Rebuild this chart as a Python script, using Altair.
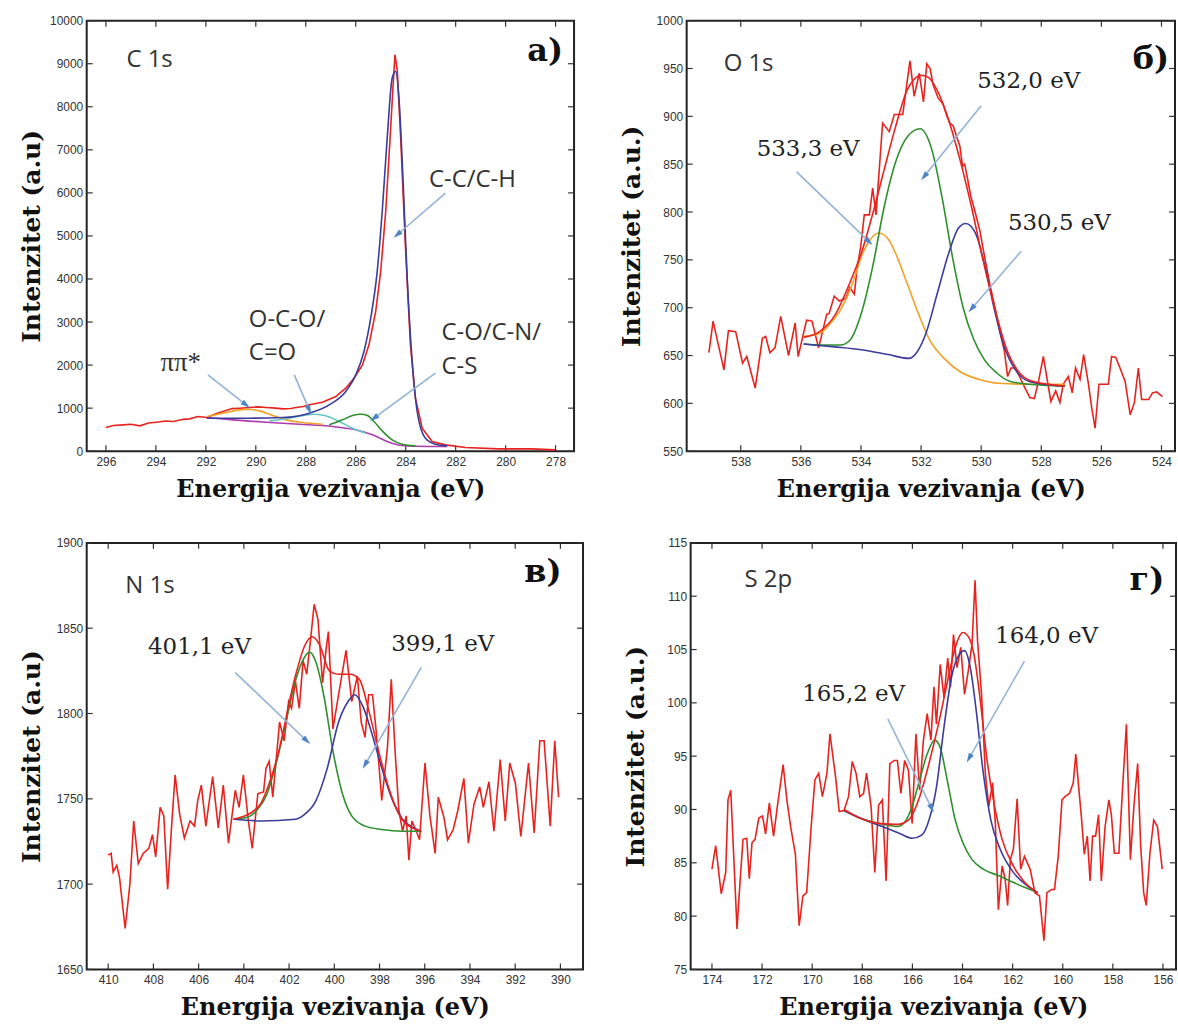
import math
import altair as alt
import pandas as pd

# ---------------- data: C 1s ----------------
C1S_RAW_EV = [296.0, 295.7, 295.31, 295.0, 294.64, 294.3, 293.98, 293.6, 293.31, 292.9, 292.65, 292.32,
              291.96, 291.6, 291.32, 290.95, 290.65, 290.26, 289.9, 289.59, 289.2, 288.93, 288.6, 288.39,
              288.1, 287.86, 287.33, 286.8, 286.4, 286.07, 285.73, 285.47, 285.2, 285.0, 284.8, 284.64,
              284.51, 284.43, 284.34, 284.2, 284.0, 283.81, 283.61, 283.34, 282.94, 282.41, 281.61,
              280.28, 278.95, 278.02]
C1S_RAW_I = [550, 598, 612, 625, 589, 655, 674, 700, 689, 740, 751, 806,
             782, 870, 922, 990, 999, 1015, 1030, 1015, 1000, 984, 990, 1015,
             1040, 1077, 1139, 1270, 1464, 1696, 2006, 2471, 3246, 4175, 5569, 7118,
             8435, 9210, 8861, 7273, 4640, 2471, 1232, 534, 225, 147, 85,
             54, 54, 31]
C1S_BG_EV = [291.96, 290.92, 289.59, 288.26, 286.93, 286.0, 285.34, 284.67, 284.14, 283.61, 282.34]
C1S_BG_I = [782, 728, 674, 627, 573, 496, 380, 209, 132, 116, 108]
C1S_CC_EV = [291.96, 290.26, 288.93, 287.86, 287.06, 286.4, 286.0, 285.67, 285.4, 285.14, 284.94, 284.74,
             284.54, 284.4, 284.27, 284.11, 283.94, 283.74, 283.54, 283.21, 282.81, 282.34]
C1S_CC_I = [767, 767, 782, 883, 1077, 1387, 1774, 2316, 3091, 4175, 5569, 7273,
            8668, 8823, 8203, 6344, 4020, 2084, 922, 302, 163, 124]
C1S_PI_EV = [291.96, 291.32, 290.65, 290.26, 289.86, 289.32, 288.79, 288.13, 287.33]
C1S_PI_I = [806, 883, 960, 976, 937, 829, 728, 666, 627]
C1S_OCO_EV = [289.46, 288.66, 287.99, 287.6, 287.2, 286.66, 286.13, 285.6]
C1S_OCO_I = [705, 767, 844, 860, 821, 689, 534, 418]
C1S_CO_EV = [287.06, 286.53, 286.13, 285.8, 285.53, 285.27, 284.94, 284.54, 284.14, 283.61]
C1S_CO_I = [612, 728, 829, 860, 829, 689, 472, 263, 163, 124]

# ---------------- data: O 1s ----------------
O1S_RAW_EV = [539.06, 538.92, 538.56, 538.41, 538.17, 537.94, 537.80, 537.52, 537.28, 537.17, 537.03, 536.86,
              536.67, 536.41, 536.19, 536.09, 535.81, 535.63, 535.41, 535.14, 535.06, 534.89, 534.72, 534.50,
              534.37, 534.22, 534.14, 534.00, 533.89, 533.72, 533.61, 533.50, 533.28, 533.06, 532.89, 532.61,
              532.37, 532.23, 532.06, 531.92, 531.81, 531.70, 531.60, 531.43, 531.27, 531.16, 531.04, 530.93,
              530.82, 530.71, 530.62, 530.55, 530.46, 530.35, 530.21, 530.04, 529.88, 529.71, 529.54, 529.38,
              529.23, 529.12, 529.01, 528.86, 528.71, 528.54, 528.38, 528.23, 528.08, 527.93, 527.82, 527.68,
              527.52, 527.38, 527.27, 527.10, 526.97, 526.86, 526.71, 526.59, 526.43, 526.32, 526.21, 526.08,
              525.77, 525.66, 525.52, 525.38, 525.21, 525.04, 524.90, 524.77, 524.66, 524.43, 524.30, 524.16,
              523.97]
O1S_RAW_I = [653, 686, 635, 676, 675, 642, 649, 616, 668, 670, 653, 658,
             691, 650, 684, 649, 687, 686, 658, 693, 694, 712, 707, 710,
             721, 714, 738, 766, 797, 797, 825, 797, 893, 884, 902, 902,
             958, 921, 945, 915, 955, 950, 933, 919, 913, 902, 893, 890,
             879, 869, 848, 850, 836, 817, 801, 780, 752, 724, 700, 675,
             655, 628, 637, 637, 627, 616, 606, 605, 625, 649, 628, 602,
             613, 601, 620, 628, 611, 637, 625, 651, 620, 595, 574, 620,
             620, 649, 648, 637, 623, 588, 601, 637, 604, 604, 611, 612,
             607]
O1S_ENV_EV = [535.91, 535.38, 534.87, 534.37, 533.99, 533.61, 533.23, 532.85, 532.47, 532.22, 532.0,
              531.77, 531.46, 531.08, 530.70, 530.32, 529.94, 529.56, 529.18, 528.80, 528.29, 527.22]
O1S_ENV_I = [669, 675, 692, 726, 757, 798, 844, 889, 927, 939, 943,
             941, 927, 896, 854, 805, 750, 701, 659, 635, 623, 618]
O1S_A_EV = [535.91, 535.38, 535.0, 534.62, 534.24, 533.99, 533.67, 533.42, 533.1, 532.85, 532.47,
            532.09, 531.71, 531.2, 530.7, 530.06, 529.43, 528.54, 527.2]
O1S_A_I = [670, 673, 684, 701, 729, 753, 772, 778, 772, 757, 726,
           694, 666, 646, 633, 625, 621, 620, 620]
O1S_B_EV = [535.91, 535.25, 534.68, 534.37, 533.99, 533.61, 533.23, 532.85, 532.45, 532.03, 531.65,
            531.3, 530.95, 530.60, 530.25, 529.9, 529.49, 529.05, 528.42, 527.22]
O1S_B_I = [662, 661, 661, 666, 694, 743, 805, 852, 879, 887, 866,
           815, 752, 700, 667, 646, 632, 623, 620, 618]
O1S_C_EV = [535.91, 534.87, 533.99, 533.1, 532.41, 532.15, 531.84, 531.46, 531.08, 530.76, 530.51,
            530.19, 529.87, 529.56, 529.24, 528.86, 528.42, 527.91, 527.22]
O1S_C_I = [662, 659, 656, 651, 647, 653, 673, 715, 757, 783, 788,
           778, 743, 698, 660, 635, 623, 620, 618]

# ---------------- data: N 1s ----------------
N1S_RAW_EV = [410.0, 409.87, 409.78, 409.62, 409.5, 409.25, 409.04, 408.87, 408.67, 408.45, 408.2, 408.04,
              407.9, 407.7, 407.54, 407.37, 407.2, 407.04, 406.84, 406.63, 406.38, 406.18, 406.04, 405.88,
              405.68, 405.38, 405.13, 404.91, 404.68, 404.38, 404.21, 404.02, 403.8, 403.63, 403.38, 403.13,
              403.02, 402.88, 402.72, 402.42, 402.22, 402.02, 401.89, 401.72, 401.55, 401.38, 401.22, 401.06,
              400.89, 400.72, 400.52, 400.36, 400.26, 400.06, 399.81, 399.48, 399.23, 398.98, 398.81, 398.64,
              398.48, 398.31, 398.15, 397.9, 397.65, 397.48, 397.32, 397.15, 396.98, 396.82, 396.7, 396.57,
              396.4, 396.23, 395.99, 395.77, 395.54, 395.4, 395.15, 394.99, 394.74, 394.54, 394.27, 394.07,
              393.82, 393.57, 393.41, 393.16, 392.94, 392.66, 392.44, 392.24, 391.99, 391.75, 391.41, 391.16,
              390.91, 390.72, 390.45, 390.25, 390.08]
N1S_RAW_I = [1717, 1718, 1707, 1711, 1704, 1674, 1700, 1737, 1712, 1718, 1721, 1729,
             1716, 1745, 1740, 1697, 1733, 1764, 1741, 1727, 1737, 1734, 1749, 1758,
             1734, 1763, 1733, 1758, 1724, 1755, 1745, 1764, 1737, 1721, 1753, 1754,
             1768, 1772, 1751, 1795, 1784, 1807, 1803, 1819, 1803, 1831, 1823, 1842,
             1864, 1855, 1818, 1838, 1848, 1791, 1811, 1837, 1807, 1822, 1795, 1786,
             1811, 1811, 1790, 1749, 1780, 1820, 1780, 1744, 1731, 1740, 1714, 1737,
             1732, 1726, 1771, 1740, 1718, 1751, 1739, 1726, 1732, 1743, 1762, 1724,
             1747, 1757, 1745, 1760, 1731, 1773, 1737, 1771, 1759, 1728, 1771, 1730,
             1784, 1784, 1734, 1784, 1751]
N1S_ENV_EV = [404.46, 403.38, 402.55, 401.72, 401.3, 400.97, 400.64, 400.22, 399.81, 399.31, 398.89,
              398.48, 398.06, 397.56, 397.06, 396.56, 396.15]
N1S_ENV_I = [1738, 1745, 1773, 1822, 1840, 1845, 1840, 1825, 1823, 1823, 1820,
             1802, 1779, 1755, 1739, 1733, 1731]
N1S_A_EV = [404.46, 403.88, 403.38, 402.97, 402.55, 402.14, 401.72, 401.36, 401.09, 400.81, 400.47,
            400.06, 399.64, 399.23, 398.64, 397.9, 396.98, 396.15]
N1S_A_I = [1738, 1739, 1744, 1753, 1772, 1795, 1819, 1832, 1836, 1830, 1811,
           1778, 1753, 1740, 1734, 1732, 1731, 1731]
N1S_B_EV = [404.46, 403.22, 401.72, 401.3, 400.81, 400.31, 399.81, 399.39, 399.09, 398.73, 398.31,
            397.9, 397.48, 396.98, 396.48, 396.15]
N1S_B_I = [1738, 1737, 1738, 1741, 1749, 1768, 1795, 1807, 1811, 1804, 1787,
           1768, 1751, 1738, 1733, 1731]

# ---------------- data: S 2p ----------------
S2P_RAW_EV = [174.0, 173.85, 173.63, 173.45, 173.36, 173.25, 173.0, 172.88, 172.76, 172.61, 172.51, 172.4,
              172.28, 172.13, 171.98, 171.86, 171.71, 171.54, 171.39, 171.16, 171.01, 170.86, 170.67, 170.52,
              170.37, 170.22, 170.04, 169.89, 169.74, 169.59, 169.41, 169.29, 169.07, 168.92, 168.73, 168.55,
              168.4, 168.25, 168.1, 167.95, 167.83, 167.65, 167.5, 167.35, 167.2, 167.05, 166.9, 166.72,
              166.6, 166.46, 166.31, 166.16, 166.01, 165.86, 165.71, 165.56, 165.41, 165.26, 165.14, 165.04,
              164.89, 164.74, 164.59, 164.48, 164.36, 164.22, 164.07, 163.92, 163.77, 163.62, 163.5, 163.4,
              163.24, 163.09, 162.95, 162.8, 162.69, 162.57, 162.42, 162.3, 162.2, 162.09, 161.97, 161.82,
              161.68, 161.53, 161.3, 161.11, 160.93, 160.75, 160.63, 160.45, 160.33, 160.18, 160.03, 159.91,
              159.73, 159.58, 159.48, 159.36, 159.26, 159.14, 159.02, 158.91, 158.81, 158.69, 158.57, 158.46,
              158.31, 158.16, 158.06, 157.94, 157.76, 157.61, 157.46, 157.3, 157.16, 157.01, 156.89, 156.77,
              156.67, 156.52, 156.37, 156.22, 156.03]
S2P_RAW_I = [84.4, 86.6, 82.1, 84.1, 90.9, 91.8, 78.8, 83.2, 87.2, 87.3, 83.5, 86.9,
             87.2, 89.2, 89.4, 87.7, 90.6, 87.5, 90.3, 94.2, 90.9, 88.4, 85.8, 79.1,
             81.9, 82.2, 88.4, 92.8, 93.4, 91.2, 93.4, 97.1, 93.1, 89.8, 89.9, 91.2,
             94.5, 93.4, 91.2, 91.5, 93.4, 90.3, 84.1, 90.4, 90.9, 83.3, 94.3, 94.6,
             94.6, 91.5, 94.6, 93.7, 88.7, 97.1, 91.8, 96.5, 99.0, 96.5, 101.5, 98.0,
             103.6, 100.5, 104.2, 101.5, 106.4, 103.3, 105.2, 100.8, 103.0, 105.5, 111.5, 105.8,
             100.8, 93.4, 90.3, 92.5, 88.7, 80.6, 84.7, 83.5, 81.0, 85.3, 86.3, 91.0,
             84.4, 85.6, 84.4, 82.2, 81.9, 77.7, 82.2, 82.5, 82.5, 85.6, 90.9, 91.2,
             91.5, 92.5, 95.2, 92.0, 89.4, 85.8, 87.5, 83.3, 87.5, 87.5, 89.5, 83.3,
             88.4, 90.9, 89.5, 85.9, 85.9, 92.1, 98.0, 85.3, 90.3, 94.3, 86.6, 82.2,
             81.0, 85.9, 89.0, 88.4, 84.4]
S2P_ENV_EV = [168.73, 168.1, 167.35, 166.6, 166.16, 165.71, 165.34, 164.96, 164.59, 164.29, 163.99,
              163.74, 163.54, 163.32, 163.02, 162.72, 162.42, 161.97, 161.53, 161.0]
S2P_ENV_I = [90.0, 89.2, 88.7, 88.6, 89.0, 91.2, 94.3, 98.0, 102.1, 105.2, 106.6,
             106.1, 104.5, 100.8, 94.6, 90.3, 87.2, 84.7, 83.2, 82.2]
S2P_A_EV = [168.73, 168.1, 167.35, 166.6, 166.31, 166.01, 165.71, 165.41, 165.11, 164.89, 164.59,
            164.29, 163.99, 163.62, 163.17, 162.57, 161.82, 161.0]
S2P_A_I = [89.9, 89.2, 88.7, 88.4, 88.8, 90.3, 92.8, 95.2, 96.5, 95.8, 92.5,
           89.0, 86.9, 85.3, 84.4, 83.8, 83.0, 82.2]
S2P_B_EV = [168.73, 168.1, 167.2, 166.46, 166.01, 165.63, 165.34, 165.04, 164.74, 164.44, 164.14,
            163.92, 163.69, 163.47, 163.17, 162.87, 162.5, 161.97, 161.45, 161.0]
S2P_B_I = [89.9, 89.2, 88.4, 87.7, 87.3, 87.6, 89.0, 92.1, 97.7, 102.4, 104.5,
           104.9, 103.3, 99.6, 93.4, 89.0, 86.3, 84.1, 82.9, 82.2]

# ---------------- axes ticks ----------------
C1S_XT = [296, 294, 292, 290, 288, 286, 284, 282, 280, 278]
C1S_YT = [0, 1000, 2000, 3000, 4000, 5000, 6000, 7000, 8000, 9000, 10000]
O1S_XT = [538, 536, 534, 532, 530, 528, 526, 524]
O1S_YT = [550, 600, 650, 700, 750, 800, 850, 900, 950, 1000]
N1S_XT = [410, 408, 406, 404, 402, 400, 398, 396, 394, 392, 390]
N1S_YT = [1650, 1700, 1750, 1800, 1850, 1900]
S2P_XT = [174, 172, 170, 168, 166, 164, 162, 160, 158, 156]
S2P_YT = [75, 80, 85, 90, 95, 100, 105, 110, 115]

# ---------------- annotations (data coordinates) ----------------
C1S_ARROWS = [(291.92, 1774, 290.39, 1077), (288.46, 1774, 287.86, 960),
              (282.81, 1813, 285.27, 767), (282.41, 5995, 284.34, 5027)]
O1S_ARROWS = [(536.14, 842, 533.73, 769), (530.0, 911, 531.9, 837), (528.67, 759, 530.32, 699)]
N1S_ARROWS = [(404.38, 1824, 401.22, 1784), (396.15, 1827, 398.64, 1770)]
S2P_ARROWS = [(166.98, 98.5, 165.23, 90.1), (161.53, 103.9, 163.74, 94.8)]

RED = "#e8231f"
GREEN = "#2f8f2f"
NAVY = "#3c3c9c"
ORANGE = "#f2a126"
CYAN = "#63c6c0"
MAGENTA = "#ae3cae"
ARROW = "#93b3d8"
HEAD = "#4c84c6"

STYLES = {
    "elem": dict(font="Open Sans", fontSize=24, color="#333", align="left", baseline="middle"),
    "chem": dict(font="Open Sans", fontSize=24, color="#333", align="left", baseline="middle"),
    "ev": dict(font="DejaVu Serif", fontSize=23, color="#222", align="left", baseline="middle"),
    "pi": dict(font="Liberation Serif", fontSize=27, color="#333", align="left", baseline="middle"),
    "letter": dict(font="DejaVu Serif", fontSize=32, fontWeight="bold", color="#111", align="right",
                   baseline="middle"),
}

HEAD_PATH = "M0,-1L-0.6,1L0.6,1Z"


def make_panel(cfg):
    W, H = cfg["W"], cfg["H"]
    xl, xr = cfg["xdom"]
    y0, y1 = cfg["ydom"]
    xs = alt.Scale(domain=[xr, xl], reverse=True, nice=False, zero=False)
    ys = alt.Scale(domain=[y0, y1], nice=False, zero=False)
    xax = alt.Axis(values=cfg["xticks"], format="d", title="Energija vezivanja (eV)")
    yax = alt.Axis(values=cfg["yticks"], format="d", title=cfg["ytitle"])

    def X(f):
        return alt.X(f"{f}:Q", scale=xs, axis=xax)

    def Y(f):
        return alt.Y(f"{f}:Q", scale=ys, axis=yax)

    layers = []
    xt = pd.DataFrame({"v": cfg["xticks"]})
    yt = pd.DataFrame({"v": cfg["yticks"]})
    tk = dict(color="#333", strokeWidth=1.2)
    layers.append(alt.Chart(xt).mark_rule(**tk).encode(x=X("v"), y=alt.value(H - 6), y2=alt.value(H)))
    layers.append(alt.Chart(xt).mark_rule(**tk).encode(x=X("v"), y=alt.value(0), y2=alt.value(6)))
    layers.append(alt.Chart(yt).mark_rule(**tk).encode(y=Y("v"), x=alt.value(0), x2=alt.value(6)))
    layers.append(alt.Chart(yt).mark_rule(**tk).encode(y=Y("v"), x=alt.value(W - 6), x2=alt.value(W)))

    raw = pd.DataFrame({"x": cfg["raw"][0], "y": cfg["raw"][1]})
    layers.append(alt.Chart(raw).mark_line(color=RED, strokeWidth=1.6).encode(
        x=X("x"), y=Y("y"), order=alt.Order("x:Q", sort="descending")))

    for ev, iv, col in cfg["comps"]:
        d = pd.DataFrame({"x": ev, "y": iv})
        layers.append(alt.Chart(d).mark_line(color=col, strokeWidth=1.6, interpolate="monotone").encode(
            x=X("x"), y=Y("y"), order=alt.Order("x:Q", sort="descending")))

    def px(v):
        return (xl - v) / (xl - xr) * W

    def py(v):
        return (y1 - v) / (y1 - y0) * H

    rows = []
    for (a, b, c, d) in cfg["arrows"]:
        dx = px(c) - px(a)
        dy = py(d) - py(b)
        ang = math.degrees(math.atan2(dx, -dy)) % 360
        rows.append({"x0": a, "y0": b, "x1": c, "y1": d, "ang": ang})
    arr = pd.DataFrame(rows)
    layers.append(alt.Chart(arr).mark_rule(color=ARROW, strokeWidth=1.6).encode(
        x=X("x0"), y=Y("y0"), x2="x1:Q", y2="y1:Q"))
    layers.append(alt.Chart(arr).mark_point(shape=HEAD_PATH, filled=True, color=HEAD, opacity=1,
                                            size=90, strokeWidth=0).encode(
        x=X("x1"), y=Y("y1"), angle=alt.Angle("ang:Q", scale=None)))

    for style, items in cfg["texts"]:
        d = pd.DataFrame(items, columns=["x", "y", "t"])
        layers.append(alt.Chart(d).mark_text(**STYLES[style]).encode(x=X("x"), y=Y("y"), text="t:N"))

    return alt.layer(*layers).properties(width=W, height=H)


panel_a = make_panel(dict(
    W=489, H=432, xdom=(296.77, 277.26), ydom=(0, 10000), xticks=C1S_XT, yticks=C1S_YT,
    ytitle="Intenzitet (a.u)",
    raw=(C1S_RAW_EV, C1S_RAW_I),
    comps=[(C1S_BG_EV, C1S_BG_I, MAGENTA), (C1S_PI_EV, C1S_PI_I, ORANGE), (C1S_OCO_EV, C1S_OCO_I, CYAN),
           (C1S_CO_EV, C1S_CO_I, GREEN), (C1S_CC_EV, C1S_CC_I, NAVY)],
    arrows=C1S_ARROWS,
    texts=[("elem", [(295.18, 9094, "C 1s")]),
           ("letter", [(277.7, 9287, "а)")]),
           ("chem", [(283.07, 6305, "C-C/C-H"), (290.28, 3052, "O-C-O/"), (290.28, 2277, "C=O"),
                     (282.57, 2742, "C-O/C-N/"), (282.57, 1944, "C-S")]),
           ("pi", [(293.82, 2045, "ππ*")])],
))

panel_b = make_panel(dict(
    W=490, H=432, xdom=(539.8, 523.55), ydom=(550, 1000), xticks=O1S_XT, yticks=O1S_YT,
    ytitle="Intenzitet (a.u.)",
    raw=(O1S_RAW_EV, O1S_RAW_I),
    comps=[(O1S_A_EV, O1S_A_I, ORANGE), (O1S_B_EV, O1S_B_I, GREEN), (O1S_C_EV, O1S_C_I, NAVY),
           (O1S_ENV_EV, O1S_ENV_I, RED)],
    arrows=O1S_ARROWS,
    texts=[("elem", [(538.57, 955, "O 1s")]),
           ("letter", [(523.75, 960, "б)")]),
           ("ev", [(530.13, 937, "532,0 eV"), (537.47, 866, "533,3 eV"), (529.11, 788, "530,5 eV")])],
))

panel_c = make_panel(dict(
    W=498, H=428, xdom=(410.95, 389.0), ydom=(1650, 1900), xticks=N1S_XT, yticks=N1S_YT,
    ytitle="Intenzitet (a.u)",
    raw=(N1S_RAW_EV, N1S_RAW_I),
    comps=[(N1S_A_EV, N1S_A_I, GREEN), (N1S_B_EV, N1S_B_I, NAVY), (N1S_ENV_EV, N1S_ENV_I, RED)],
    arrows=N1S_ARROWS,
    texts=[("elem", [(409.24, 1875, "N 1s")]),
           ("letter", [(389.95, 1883, "в)")]),
           ("ev", [(408.24, 1839, "401,1 eV"), (397.48, 1841, "399,1 eV")])],
))

panel_d = make_panel(dict(
    W=487, H=428, xdom=(174.85, 155.48), ydom=(75, 115), xticks=S2P_XT, yticks=S2P_YT,
    ytitle="Intenzitet (a.u.)",
    raw=(S2P_RAW_EV, S2P_RAW_I),
    comps=[(S2P_A_EV, S2P_A_I, GREEN), (S2P_B_EV, S2P_B_I, NAVY), (S2P_ENV_EV, S2P_ENV_I, RED)],
    arrows=S2P_ARROWS,
    texts=[("elem", [(172.7, 111.5, "S 2p")]),
           ("letter", [(155.95, 111.5, "г)")]),
           ("ev", [(162.7, 106.3, "164,0 eV"), (170.4, 100.8, "165,2 eV")])],
))

chart = alt.vconcat(
    alt.hconcat(panel_a, panel_b, spacing=43),
    alt.hconcat(panel_c, panel_d, spacing=38),
    spacing=34,
).properties(
    padding={"left": 19, "top": 12, "right": 0, "bottom": 0},
    background="white",
).configure_view(
    stroke="#222", strokeWidth=2
).configure_axis(
    domain=False, ticks=False, grid=False,
    labelFont="Liberation Sans", labelFontSize=12, labelColor="#333",
    titleFont="DejaVu Serif", titleFontSize=25, titleFontWeight="bold", titleColor="#111",
).configure_axisY(
    minExtent=40, maxExtent=40, labelPadding=4, titlePadding=2
).configure_axisX(
    labelPadding=5, titlePadding=10, titleFontSize=24
)

chart.save("out.html", embed_options={"renderer": "svg", "actions": False})
